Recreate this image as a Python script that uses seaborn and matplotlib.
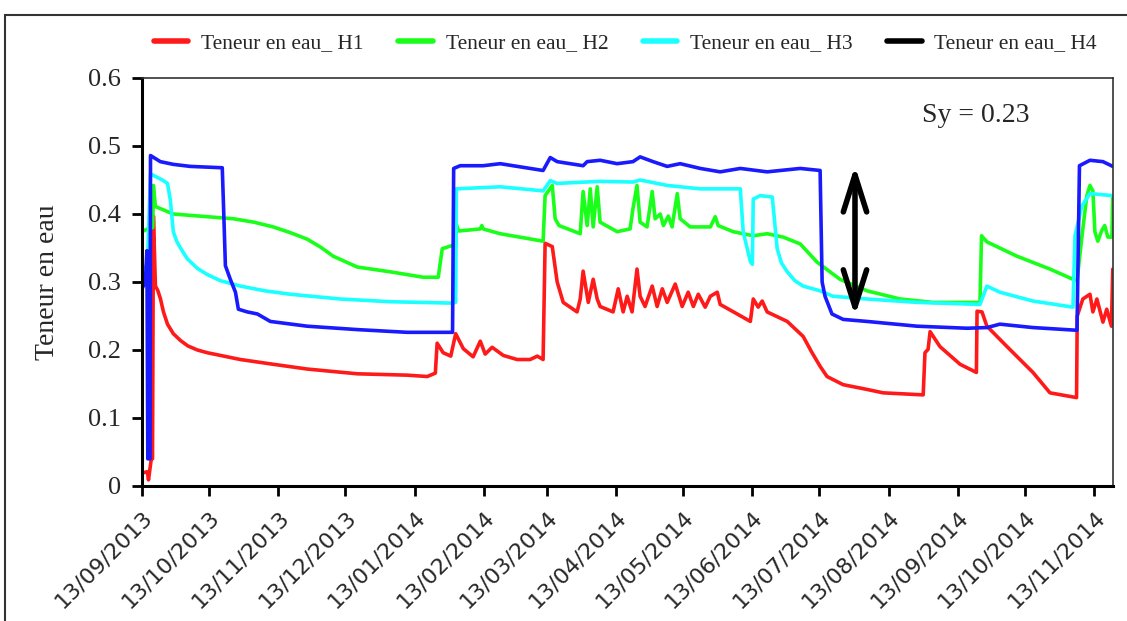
import numpy as np
import pandas as pd
import matplotlib
matplotlib.use("Agg")
import matplotlib.pyplot as plt
import matplotlib.dates as mdates
from matplotlib.patches import Rectangle, ArrowStyle
from matplotlib.lines import Line2D
import seaborn as sns

# ---------------- data (days since 13/09/2013, water content) ----------------
START = "2013-09-13"
X_END_DAYS = 434.3

h1_days = [0.0, 2.4, 2.9, 4.2, 4.7, 5.1, 6.0, 7.0, 8.2, 9.6, 11.4, 14.0, 17.2, 20.5, 24.8, 29.2, 44.0,
           58.7, 73.9, 96.3, 118.6, 127.6, 131.2, 132.0, 134.7, 138.1, 140.3, 143.7, 148.1,
           151.3, 153.5, 156.6, 161.6, 167.8, 173.6, 176.8, 179.4, 180.3, 183.5, 185.7, 188.4,
           194.6, 196.0, 197.3, 199.6, 201.8, 203.6, 204.9, 210.7, 213.0, 215.2, 217.0, 219.2,
           221.4, 222.8, 225.0, 228.2, 230.4, 232.7, 234.9, 238.5, 241.6, 244.3, 246.6, 248.8,
           251.9, 254.2, 257.3, 258.6, 266.2, 272.1, 273.4, 275.6, 277.4, 279.6, 288.6, 295.7,
           299.7, 303.3, 306.4, 313.6, 324.3, 331.5, 349.4, 350.2, 351.6, 352.5, 356.9, 365.9,
           373.2, 373.5, 375.7, 377.9, 386.9, 398.5, 406.1, 418.0, 418.3, 420.8, 424.0, 425.3,
           427.1, 429.8, 431.5, 433.6, 434.2]
h1_vals = [0.019, 0.021, 0.009, 0.041, 0.040, 0.397, 0.294, 0.288, 0.276, 0.256, 0.238, 0.224, 0.214,
           0.206, 0.200, 0.196, 0.186, 0.179, 0.172, 0.165, 0.163, 0.161, 0.166, 0.210, 0.196, 0.191,
           0.224, 0.202, 0.190, 0.213, 0.194, 0.204, 0.192, 0.186, 0.186, 0.191, 0.186, 0.357,
           0.352, 0.300, 0.270, 0.256, 0.275, 0.316, 0.270, 0.304, 0.275, 0.264, 0.256, 0.290,
           0.256, 0.279, 0.256, 0.319, 0.279, 0.264, 0.294, 0.264, 0.290, 0.270, 0.297, 0.264,
           0.285, 0.264, 0.282, 0.263, 0.279, 0.285, 0.267, 0.253, 0.242, 0.275, 0.263, 0.272,
           0.256, 0.242, 0.220, 0.196, 0.176, 0.161, 0.149, 0.142, 0.137, 0.134, 0.196, 0.201,
           0.227, 0.205, 0.179, 0.167, 0.257, 0.256, 0.235, 0.205, 0.167, 0.137, 0.130, 0.250,
           0.275, 0.282, 0.256, 0.275, 0.241, 0.260, 0.235, 0.319]

h2_days = [0.0, 2.4, 4.8, 5.1, 6.0, 14.0, 29.2, 40.9, 50.0, 58.7, 66.0, 73.9, 80.0, 85.5, 96.3, 111.0, 125.8,
           132.5, 134.3, 138.1, 140.3, 140.5, 141.6, 151.3, 152.0, 152.6, 160.2, 179.4, 180.3,
           183.5, 184.8, 186.5, 196.0, 197.3, 199.1, 200.5, 201.8, 203.6, 204.9, 212.5, 218.3,
           219.6, 221.4, 222.8, 225.9, 228.2, 229.5, 231.8, 233.2, 235.4, 237.1, 239.4, 240.7,
           245.2, 254.2, 256.4, 257.7, 264.4, 273.4, 279.6, 286.8, 294.4, 302.0, 312.2, 324.3,
           339.1, 353.8, 374.8, 375.5, 377.9, 391.3, 406.1, 416.4, 418.2, 420.8, 422.6, 424.0,
           425.3, 426.2, 427.5, 429.3, 430.6, 432.0, 433.8, 434.2]
h2_vals = [0.374, 0.378, 0.380, 0.442, 0.411, 0.400, 0.396, 0.393, 0.388, 0.381, 0.373, 0.363, 0.351, 0.338, 0.322,
           0.315, 0.307, 0.307, 0.349, 0.353, 0.355, 0.386, 0.375, 0.378, 0.383, 0.378, 0.371,
           0.360, 0.427, 0.442, 0.393, 0.383, 0.371, 0.433, 0.383, 0.437, 0.381, 0.440, 0.388,
           0.374, 0.378, 0.408, 0.442, 0.388, 0.381, 0.433, 0.393, 0.400, 0.383, 0.397, 0.381,
           0.430, 0.393, 0.381, 0.381, 0.396, 0.383, 0.374, 0.368, 0.371, 0.366, 0.356, 0.329,
           0.304, 0.287, 0.275, 0.270, 0.270, 0.368, 0.359, 0.338, 0.319, 0.304, 0.302, 0.378,
           0.427, 0.442, 0.434, 0.374, 0.360, 0.376, 0.383, 0.366, 0.366, 0.425]

h3_days = [0.0, 2.4, 3.8, 9.1, 11.4, 12.7, 14.0, 15.5, 17.2, 20.3, 24.8, 29.2, 35.0, 44.0, 55.0, 66.3, 88.7,
           111.0, 138.1, 140.3, 140.6, 160.2, 179.4, 182.6, 185.7, 204.9, 219.6, 222.8, 234.9,
           249.7, 267.6, 268.9, 272.1, 273.0, 273.4, 276.5, 281.9, 284.1, 286.0, 288.6, 292.0, 295.7, 303.3,
           309.1, 324.3, 346.7, 374.8, 377.9, 383.7, 398.5, 416.4, 417.3, 420.4, 424.0, 434.2]
h3_vals = [0.319, 0.325, 0.459, 0.450, 0.445, 0.420, 0.374, 0.360, 0.350, 0.334, 0.320, 0.311, 0.302, 0.294,
           0.287, 0.282, 0.275, 0.271, 0.269, 0.270, 0.437, 0.440, 0.434, 0.449, 0.445, 0.448, 0.447,
           0.450, 0.442, 0.437, 0.437, 0.374, 0.330, 0.326, 0.422, 0.427, 0.425, 0.349, 0.328, 0.315,
           0.302, 0.294, 0.287, 0.279, 0.275, 0.270, 0.267, 0.294, 0.285, 0.272, 0.263, 0.368, 0.412,
           0.430, 0.427]

h4_days = [0.0, 1.5, 2.2, 2.6, 3.6, 3.8, 8.2, 14.0, 21.6, 35.9, 36.5, 37.3, 39.5, 41.8, 43.1,
           47.1, 51.6, 57.4, 73.9, 96.3, 118.6, 138.9, 139.4, 142.3, 152.6, 160.2, 179.4, 182.6,
           185.7, 197.3, 199.1, 204.9, 212.5, 219.6, 222.8, 228.6, 234.9, 240.7, 249.7, 258.6,
           267.6, 279.6, 294.4, 303.3, 304.2, 305.5, 308.6, 313.6, 324.3, 346.7, 369.0, 378.0,
           383.7, 398.5, 418.2, 419.3, 424.0, 429.8, 434.2]
h4_vals = [0.290, 0.300, 0.346, 0.040, 0.040, 0.486, 0.477, 0.473, 0.470, 0.468, 0.408, 0.324,
           0.304, 0.285, 0.260, 0.256, 0.253, 0.242, 0.235, 0.230, 0.226, 0.226, 0.467, 0.471,
           0.471, 0.474, 0.464, 0.483, 0.477, 0.471, 0.477, 0.479, 0.474, 0.477, 0.484, 0.477,
           0.470, 0.474, 0.467, 0.462, 0.467, 0.462, 0.467, 0.464, 0.300, 0.279, 0.253, 0.245,
           0.242, 0.235, 0.232, 0.233, 0.238, 0.233, 0.229, 0.471, 0.479, 0.477, 0.470]

series_labels = ["Teneur en eau_ H1", "Teneur en eau_ H2", "Teneur en eau_ H3", "Teneur en eau_ H4"]
series_colors = ["#ff1a1a", "#1aff1a", "#1affff", "#1a1aff"]
legend_colors = ["#ff1a1a", "#1aff1a", "#1affff", "#000000"]

yticks = [0, 0.1, 0.2, 0.3, 0.4, 0.5, 0.6]
ytick_labels = ["0", "0.1", "0.2", "0.3", "0.4", "0.5", "0.6"]

arrow_day = 318.9
arrow_top = 0.471
arrow_bottom = 0.250
sy_text = "Sy = 0.23"
sy_day = 373.0
sy_val = 0.545

# ---------------- build ----------------
start = pd.Timestamp(START)
frames = []
for lab, d, v in zip(series_labels,
                     [h1_days, h2_days, h3_days, h4_days],
                     [h1_vals, h2_vals, h3_vals, h4_vals]):
    frames.append(pd.DataFrame({"date": start + pd.to_timedelta(d, unit="D"),
                                "value": v, "serie": lab}))
df = pd.concat(frames, ignore_index=True)

sns.set_style("white")
plt.rcParams["font.family"] = ["Liberation Serif", "DejaVu Serif"]

fig = plt.figure(figsize=(11.27, 6.21), dpi=100)
ax = fig.add_axes([142 / 1127, 1 - 486 / 621, (1113 - 142) / 1127, (486 - 78) / 621])

for lab, col in zip(series_labels, series_colors):
    sub = df[df["serie"] == lab]
    sns.lineplot(data=sub, x="date", y="value", ax=ax, color=col, lw=2.6,
                 estimator=None, sort=False, legend=False)

ax.set_xlim(start, start + pd.Timedelta(days=X_END_DAYS))
ax.set_ylim(0, 0.6)
ax.set_yticks(yticks)
ax.set_yticklabels(ytick_labels, fontsize=19)

tick_dates = pd.date_range("2013-09-01", "2014-11-01", freq="MS") + pd.Timedelta(days=12)
ax.set_xticks(tick_dates)
ax.xaxis.set_major_formatter(mdates.DateFormatter("%d/%m/%Y"))
for t in ax.get_xticklabels():
    t.set_rotation(45)
    t.set_ha("right")
    t.set_rotation_mode("anchor")
    t.set_fontsize(16)
    t.set_family("DejaVu Sans")

ax.set_xlabel("")
ax.set_ylabel("Teneur en eau", fontsize=20, labelpad=20)

ax.tick_params(axis="both", direction="out", length=7, width=2, color="black",
               bottom=True, left=True, top=False, right=False)
ax.tick_params(axis="x", pad=8)
ax.tick_params(axis="y", pad=8)

for side in ["left", "bottom"]:
    ax.spines[side].set_linewidth(2.2)
    ax.spines[side].set_color("black")
for side in ["top", "right"]:
    ax.spines[side].set_visible(True)
    ax.spines[side].set_linewidth(1.2)
    ax.spines[side].set_color("#333333")

# Arrow
arrow_x = start + pd.Timedelta(days=arrow_day)
ax.annotate("", xy=(arrow_x, arrow_bottom), xytext=(arrow_x, arrow_top),
            arrowprops=dict(arrowstyle=ArrowStyle("<->", head_length=0.95, head_width=0.3),
                            lw=4.0, color="black", mutation_scale=28,
                            shrinkA=0, shrinkB=0))
ax.text(start + pd.Timedelta(days=sy_day), sy_val, sy_text, fontsize=20,
        ha="center", va="center")

# Legend (separate proxy handles so the plotted lines keep their colours)
handles = [Line2D([0], [0], color=c, lw=4) for c in legend_colors]
fig.legend(handles, series_labels, loc="center", bbox_to_anchor=(0.555, 1 - 43 / 621),
           ncol=4, frameon=False, fontsize=15.5, handlelength=1.6,
           columnspacing=1.6, handletextpad=0.6)

# Outer frame
fig.patches.append(Rectangle((5 / 1127, -0.05), 1.2, 1 - 15 / 621 + 0.05,
                             transform=fig.transFigure, fill=False, lw=1.5,
                             edgecolor="#333333", zorder=10))

fig.savefig("out.png", dpi=100)
